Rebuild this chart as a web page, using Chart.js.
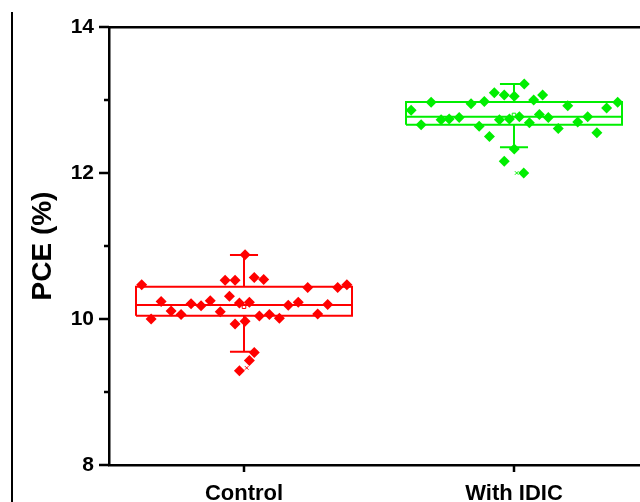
<!DOCTYPE html>
<html><head><meta charset="utf-8">
<script src="https://cdn.jsdelivr.net/npm/chart.js@4.4.0/dist/chart.umd.min.js"></script>
<style>
html,body{margin:0;padding:0;background:#fff;overflow:hidden;width:640px;height:502px;}
#wrap{position:relative;width:640px;height:502px;overflow:hidden;}
#c{position:absolute;left:0;top:0;}
#edge{position:absolute;left:11px;top:12px;width:2px;height:490px;background:#000;}
</style></head><body>
<div id="wrap"><canvas id="c" width="660" height="502"></canvas><div id="edge"></div></div>
<script>
const categories = ['Control', 'With IDIC'];
const yTicks = [8, 10, 12, 14];
const yMinorTicks = [9, 11, 13];

const controlPCE = [10.88, 10.53, 10.53, 10.57, 10.54, 10.47, 10.43, 10.43, 10.47, 10.24, 10.21, 10.18, 10.25, 10.31, 10.22, 10.23, 10.19, 10.23, 10.20, 10.11, 10.06, 10.10, 10.00, 10.04, 10.06, 10.01, 10.07, 9.93, 9.97, 9.54, 9.43, 9.29];
const controlJitter = [0.004, -0.070, -0.033, 0.038, 0.073, -0.379, 0.236, 0.347, 0.381, -0.307, -0.196, -0.159, -0.125, -0.054, -0.017, 0.020, 0.164, 0.201, 0.310, -0.270, -0.233, -0.088, -0.344, 0.057, 0.094, 0.131, 0.273, -0.033, 0.004, 0.038, 0.020, -0.017];

const idicPCE = [13.22, 13.10, 13.07, 13.05, 13.07, 12.98, 13.00, 12.97, 12.95, 12.92, 12.97, 12.86, 12.89, 12.73, 12.74, 12.76, 12.73, 12.74, 12.77, 12.69, 12.80, 12.76, 12.70, 12.77, 12.66, 12.64, 12.61, 12.55, 12.50, 12.33, 12.16, 12.00];
const idicJitter = [0.038, -0.073, -0.036, 0.001, 0.106, -0.110, 0.073, -0.307, -0.159, 0.199, 0.384, -0.381, 0.343, -0.270, -0.240, -0.203, -0.054, -0.017, 0.020, 0.057, 0.094, 0.127, 0.236, 0.273, -0.344, -0.129, 0.164, 0.307, -0.091, 0.001, -0.036, 0.036];

const boxQ1 = [10.045, 12.662];
const boxMedian = [10.192, 12.771];
const boxQ3 = [10.443, 12.973];
const whiskerLow = [9.552, 12.352];
const whiskerHigh = [10.877, 13.219];
const boxMean = [10.168, 12.795];
const pct1 = [9.33, 12.00];

const colors = ['#FF0000', '#00EE00'];
const FONT = "'Liberation Sans', Arial, sans-serif";

function boxPath(i) {
  const c = i, hw = 0.4, cw = 0.052;
  const gap = {x: c, y: null};
  return [
    {x: c - hw, y: boxQ1[i]}, {x: c + hw, y: boxQ1[i]}, {x: c + hw, y: boxQ3[i]}, {x: c - hw, y: boxQ3[i]}, {x: c - hw, y: boxQ1[i]}, gap,
    {x: c - hw, y: boxMedian[i]}, {x: c + hw, y: boxMedian[i]}, gap,
    {x: c, y: boxQ3[i]}, {x: c, y: whiskerHigh[i]}, gap,
    {x: c - cw, y: whiskerHigh[i]}, {x: c + cw, y: whiskerHigh[i]}, gap,
    {x: c, y: boxQ1[i]}, {x: c, y: whiskerLow[i]}, gap,
    {x: c - cw, y: whiskerLow[i]}, {x: c + cw, y: whiskerLow[i]}
  ];
}

const pointSets = [
  {vals: controlPCE, jit: controlJitter, i: 0},
  {vals: idicPCE, jit: idicJitter, i: 1}
];

const datasets = [];
pointSets.forEach(s => {
  datasets.push({
    type: 'scatter',
    data: s.vals.map((v, k) => ({x: s.i + s.jit[k], y: v})),
    pointStyle: 'rectRot', pointRadius: 5.5, pointHoverRadius: 5.5,
    backgroundColor: colors[s.i], borderColor: colors[s.i], borderWidth: 0
  });
});
categories.forEach((_, i) => {
  datasets.push({
    type: 'scatter',
    data: [{x: i, y: boxMean[i]}],
    pointStyle: 'rect', pointRadius: 2.5, backgroundColor: 'rgba(0,0,0,0)', borderColor: colors[i], borderWidth: 1
  });
  datasets.push({
    type: 'scatter',
    data: [{x: i + 0.01, y: pct1[i]}],
    pointStyle: 'crossRot', pointRadius: 2.5, borderColor: colors[i], borderWidth: 1
  });
  datasets.push({
    type: 'line',
    data: boxPath(i),
    borderColor: colors[i], borderWidth: 2, pointRadius: 0, spanGaps: false,
    borderJoinStyle: 'miter', borderCapStyle: 'butt', fill: false, tension: 0
  });
});

const tickPlugin = {
  id: 'axisTicks',
  afterDraw(chart) {
    const {ctx, scales: {x, y}} = chart;
    const left = chart.chartArea.left, bottom = chart.chartArea.bottom;
    ctx.save();
    ctx.strokeStyle = '#000';
    ctx.lineWidth = 2.5;
    ctx.beginPath();
    yTicks.forEach(v => { const p = y.getPixelForValue(v); ctx.moveTo(left - 10, p); ctx.lineTo(left, p); });
    yMinorTicks.forEach(v => { const p = y.getPixelForValue(v); ctx.moveTo(left - 5, p); ctx.lineTo(left, p); });
    categories.forEach((_, i) => { const p = x.getPixelForValue(i); ctx.moveTo(p, bottom); ctx.lineTo(p, bottom + 7); });
    ctx.stroke();
    ctx.restore();
  }
};

new Chart(document.getElementById('c'), {
  type: 'scatter',
  data: {datasets},
  options: {
    responsive: false, animation: false,
    layout: {padding: {left: 18, top: 27, right: 11, bottom: 0}},
    plugins: {legend: {display: false}, tooltip: {enabled: false}},
    scales: {
      x: {
        type: 'linear', min: -0.5, max: 1.5, position: 'bottom',
        afterBuildTicks: s => { s.ticks = categories.map((_, i) => ({value: i})); },
        afterFit: s => { s.height = 37; },
        ticks: {callback: v => categories[v] ?? '', font: {family: FONT, weight: 'bold', size: 22}, color: '#000', padding: 9, maxRotation: 0, autoSkip: false},
        grid: {display: true, drawOnChartArea: false, drawTicks: true, tickLength: 7, tickColor: 'rgba(0,0,0,0)'},
        border: {display: true, color: '#000', width: 2.5}
      },
      x2: {
        type: 'linear', position: 'top', min: -0.5, max: 1.5,
        grid: {display: false}, ticks: {display: false},
        border: {display: true, color: '#000', width: 2.5},
        afterFit: s => { s.height = 0; }
      },
      y: {
        type: 'linear', min: 8, max: 14,
        afterBuildTicks: s => { s.ticks = yTicks.map(v => ({value: v})); },
        afterFit: s => { s.width = 91; },
        ticks: {font: {family: FONT, weight: 'bold', size: 21}, color: '#000', padding: 5},
        grid: {display: true, drawOnChartArea: false, drawTicks: true, tickLength: 10, tickColor: 'rgba(0,0,0,0)'},
        border: {display: true, color: '#000', width: 2.5},
        title: {display: true, text: 'PCE (%)', font: {family: FONT, weight: 'bold', size: 28}, color: '#000', padding: {top: 8, bottom: 0}}
      }
    }
  },
  plugins: [tickPlugin]
});
</script>
</body></html>
